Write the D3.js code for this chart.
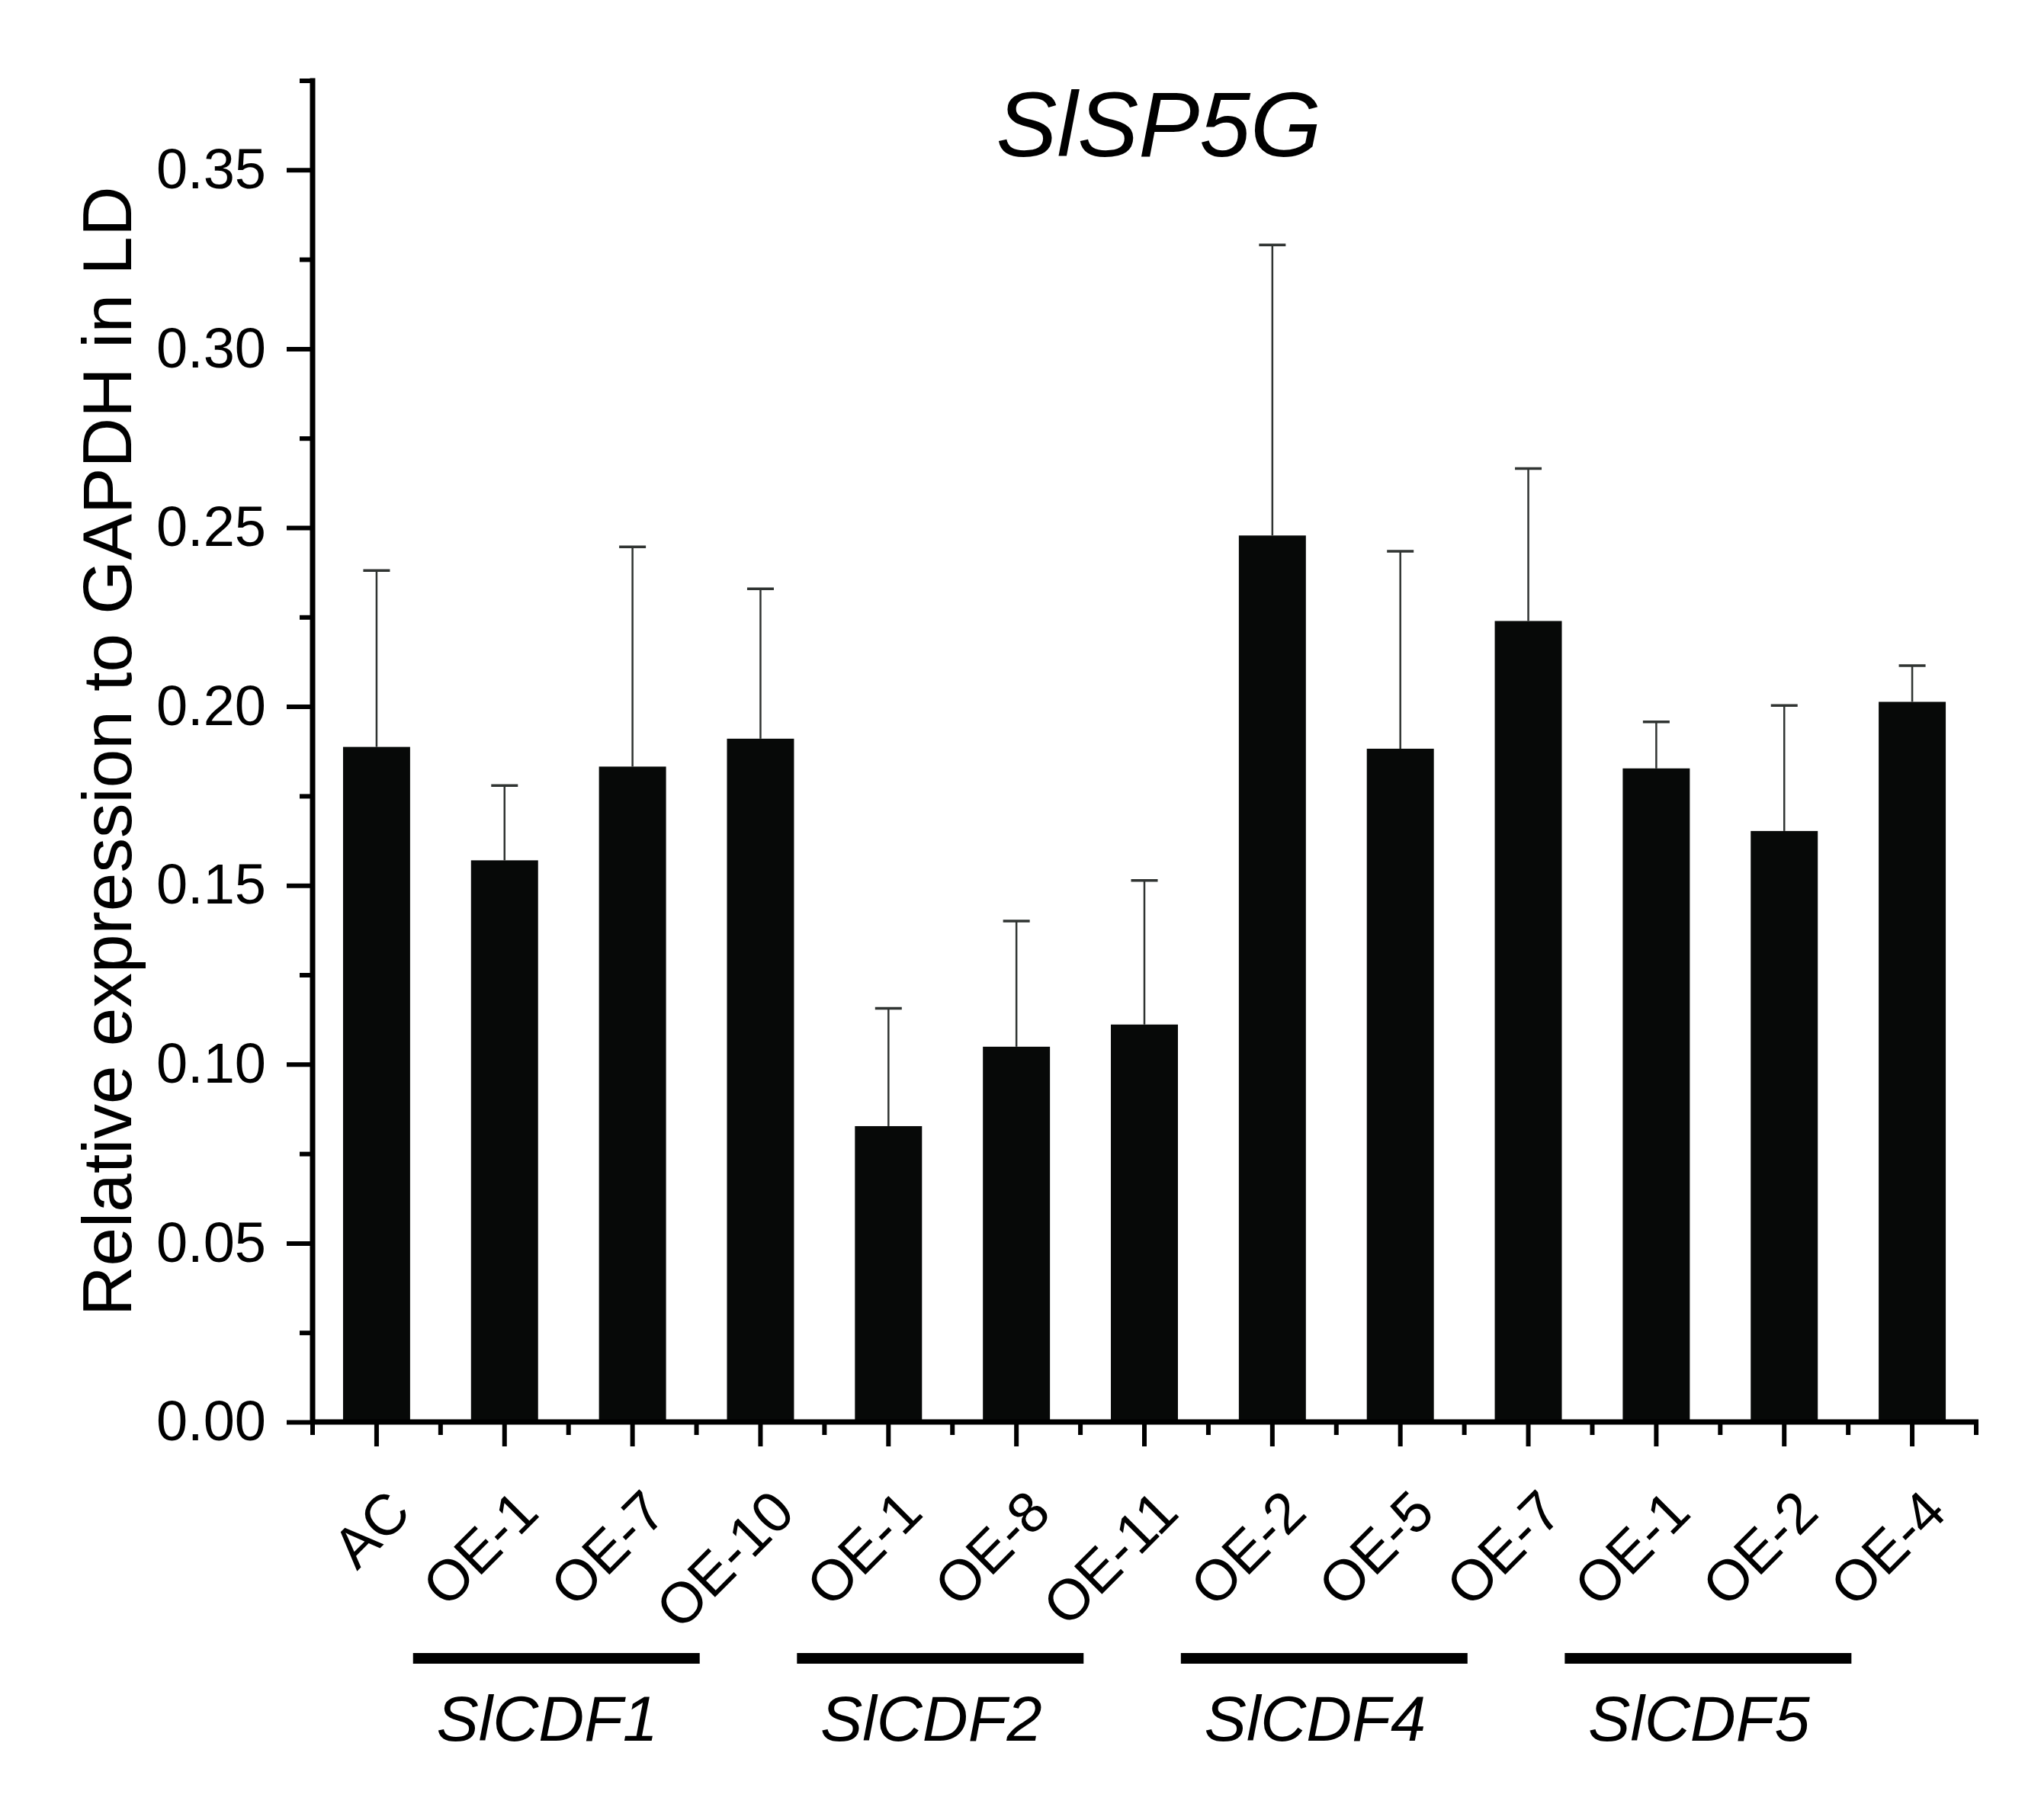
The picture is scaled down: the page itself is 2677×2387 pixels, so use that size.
<!DOCTYPE html>
<html>
<head>
<meta charset="utf-8">
<script src="https://cdn.jsdelivr.net/npm/d3@7"></script>
<style>
  html, body { margin: 0; padding: 0; background: #fff; }
  svg { display: block; }
</style>
</head>
<body>
<div id="chart"></div>
<script>
// values
const lineLabels = ['AC', 'OE-1', 'OE-7', 'OE-10', 'OE-1', 'OE-8', 'OE-11', 'OE-2', 'OE-5', 'OE-7', 'OE-1', 'OE-2', 'OE-4'];
const means = [0.1887, 0.1570, 0.1832, 0.1910, 0.0827, 0.1049, 0.1111, 0.2478, 0.1882, 0.2239, 0.1827, 0.1652, 0.2013];
const errors = [0.0493, 0.0209, 0.0614, 0.0419, 0.0329, 0.0351, 0.0403, 0.0812, 0.0552, 0.0426, 0.0130, 0.0351, 0.0101];
const groupNames = ['SlCDF1', 'SlCDF2', 'SlCDF4', 'SlCDF5'];
const groupFirst = [1, 4, 7, 10];
const groupLast = [3, 6, 9, 12];
const majorTicks = [0, 0.05, 0.10, 0.15, 0.20, 0.25, 0.30, 0.35];
const minorTicks = [0.025, 0.075, 0.125, 0.175, 0.225, 0.275, 0.325, 0.375];

const width = 2677;
const height = 2387;
const plotLeft = 410, plotRight = 2592, plotTop = 105.5, plotBottom = 1865;
const font = '"Liberation Sans", Arial, Helvetica, sans-serif';

const svg = d3.select('#chart').append('svg')
  .attr('width', width)
  .attr('height', height)
  .style('font-family', font);

svg.append('rect').attr('width', width).attr('height', height).attr('fill', '#fff');

const x = d3.scaleBand()
  .domain(d3.range(lineLabels.length))
  .range([plotLeft, plotRight])
  .paddingInner(0.476)
  .paddingOuter(0.238);

const y = d3.scaleLinear()
  .domain([0, 0.375])
  .range([plotBottom, plotTop]);

const step = x.step();
const xc = i => x(i) + x.bandwidth() / 2;

// bars
svg.append('g')
  .selectAll('rect')
  .data(means)
  .join('rect')
  .attr('x', (d, i) => x(i))
  .attr('y', d => y(d))
  .attr('width', x.bandwidth())
  .attr('height', d => y(0) - y(d))
  .attr('fill', '#070908');

// error bars (upper only)
const err = svg.append('g')
  .attr('stroke', '#303432')
  .attr('fill', 'none');

err.selectAll('line.stem')
  .data(means)
  .join('line')
  .attr('class', 'stem')
  .attr('x1', (d, i) => xc(i))
  .attr('x2', (d, i) => xc(i))
  .attr('y1', d => y(d))
  .attr('y2', (d, i) => y(d + errors[i]))
  .attr('stroke-width', 2.5);

err.selectAll('line.cap')
  .data(means)
  .join('line')
  .attr('class', 'cap')
  .attr('x1', (d, i) => xc(i) - 17.5)
  .attr('x2', (d, i) => xc(i) + 17.5)
  .attr('y1', (d, i) => y(d + errors[i]))
  .attr('y2', (d, i) => y(d + errors[i]))
  .attr('stroke-width', 3.5);

// y axis
const yAxis = svg.append('g')
  .attr('transform', `translate(${plotLeft},0)`)
  .call(d3.axisLeft(y)
    .tickValues(majorTicks)
    .tickFormat(d3.format('.2f'))
    .tickSize(34)
    .tickSizeOuter(0)
    .tickPadding(27));

yAxis.select('.domain').remove();
yAxis.selectAll('line').attr('stroke', '#000').attr('stroke-width', 6);
yAxis.selectAll('text')
  .attr('fill', '#000')
  .style('font-size', '74px')
  .style('font-family', font);

svg.append('g')
  .attr('transform', `translate(${plotLeft},0)`)
  .call(d3.axisLeft(y).tickValues(minorTicks).tickSize(17).tickFormat(''))
  .call(g => g.select('.domain').remove())
  .selectAll('line').attr('stroke', '#000').attr('stroke-width', 6);

svg.append('line')
  .attr('x1', plotLeft).attr('x2', plotLeft)
  .attr('y1', y(0) + 3).attr('y2', y(0.375) - 3)
  .attr('stroke', '#000')
  .attr('stroke-width', 7);

// x axis
const xAxis = svg.append('g')
  .attr('transform', `translate(0,${plotBottom})`)
  .call(d3.axisBottom(x)
    .tickSize(32)
    .tickSizeOuter(0)
    .tickFormat(i => lineLabels[i]));

xAxis.select('.domain').remove();
xAxis.selectAll('line').attr('stroke', '#000').attr('stroke-width', 6);
xAxis.selectAll('text')
  .attr('fill', '#000')
  .attr('x', null)
  .attr('y', null)
  .attr('dy', null)
  .attr('text-anchor', 'end')
  .attr('transform', 'translate(48,122) rotate(-45)')
  .style('font-size', '75px')
  .style('font-family', font);

// minor ticks at the band edges
const edges = d3.range(lineLabels.length + 1).map(i => plotLeft + i * step);
svg.append('g')
  .selectAll('line')
  .data(edges)
  .join('line')
  .attr('x1', d => d).attr('x2', d => d)
  .attr('y1', plotBottom).attr('y2', plotBottom + 17)
  .attr('stroke', '#000')
  .attr('stroke-width', 6);

svg.append('line')
  .attr('x1', plotLeft - 3).attr('x2', plotRight + 3)
  .attr('y1', plotBottom).attr('y2', plotBottom)
  .attr('stroke', '#000')
  .attr('stroke-width', 7);

// group bars and names under the labels
const groups = svg.append('g');
groupNames.forEach((name, k) => {
  const x1 = xc(groupFirst[k]) - 0.715 * step;
  const x2 = xc(groupLast[k]) - 0.475 * step;
  groups.append('line')
    .attr('x1', x1).attr('x2', x2)
    .attr('y1', 2175).attr('y2', 2175)
    .attr('stroke', '#000')
    .attr('stroke-width', 14);
  groups.append('text')
    .attr('x', (x1 + x2) / 2 - 12)
    .attr('y', 2283)
    .attr('text-anchor', 'middle')
    .style('font-style', 'italic')
    .style('font-size', '83px')
    .text(name);
});

// y title
svg.append('text')
  .attr('transform', `translate(172,${(plotTop + plotBottom) / 2}) rotate(-90)`)
  .attr('text-anchor', 'middle')
  .style('font-size', '91px')
  .text('Relative expression to GAPDH in LD');

// chart title
svg.append('text')
  .attr('x', 1520)
  .attr('y', 205)
  .attr('text-anchor', 'middle')
  .style('font-style', 'italic')
  .style('font-size', '120px')
  .text('SlSP5G');
</script>
</body>
</html>
